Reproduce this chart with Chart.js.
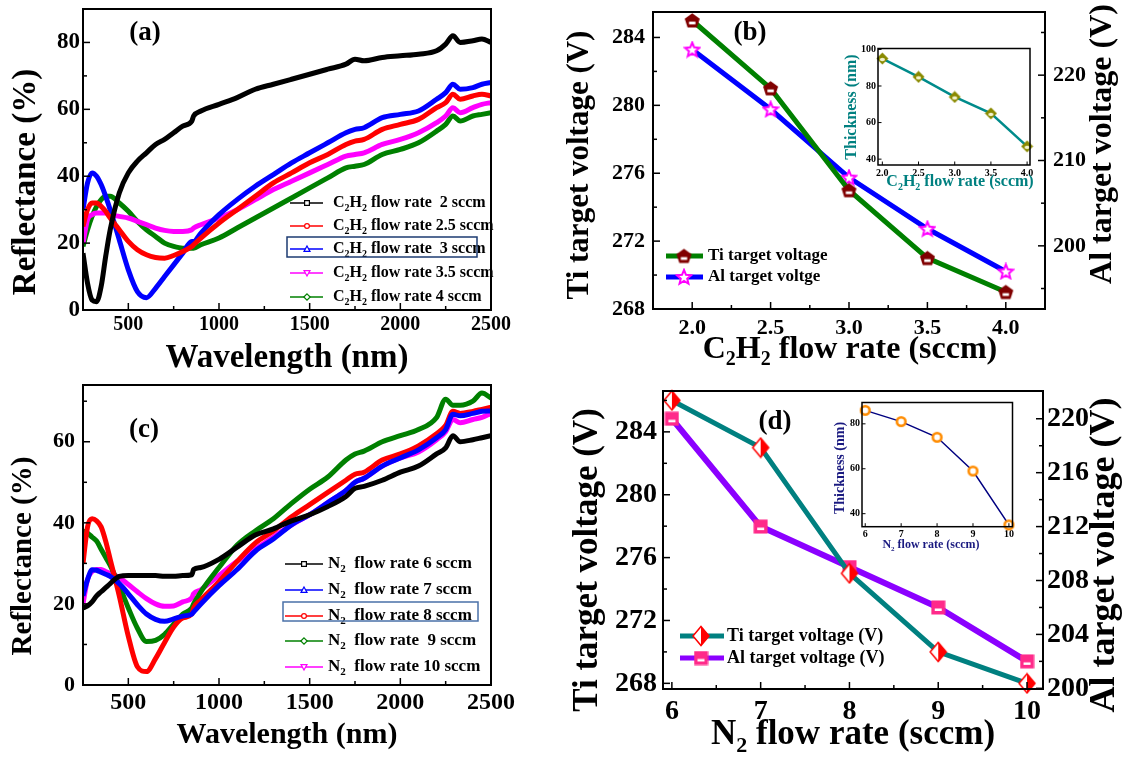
<!DOCTYPE html>
<html><head><meta charset="utf-8">
<script src="https://cdn.jsdelivr.net/npm/chart.js@4.4.1/dist/chart.umd.min.js"></script>
<style>
html,body{margin:0;padding:0;background:#fff;}
#wrap{position:relative;width:1126px;height:757px;overflow:hidden;background:#fff;}
.box{position:absolute;}
</style></head><body>
<div id="wrap">
  <div class="box" style="left:0;top:0;width:560px;height:378px"><canvas id="ca"></canvas></div>
  <div class="box" style="left:560px;top:0;width:566px;height:378px"><canvas id="cb"></canvas></div>
  <div class="box" style="left:0;top:378px;width:560px;height:379px"><canvas id="cc"></canvas></div>
  <div class="box" style="left:560px;top:378px;width:566px;height:379px"><canvas id="cd"></canvas></div>
  <div class="box" style="left:835px;top:40px;width:205px;height:155px"><canvas id="cib"></canvas></div>
  <div class="box" style="left:820px;top:395px;width:200px;height:160px"><canvas id="cid"></canvas></div>
</div>
<script>
const SERIF = '"Liberation Serif","Times New Roman",Times,serif';

// ================= DATA =================
const wavelengthNm = [250,275,300,325,350,375,400,450,500,550,600,650,700,750,800,850,860,900,1000,1100,1200,1300,1400,1500,1600,1700,1750,1800,1900,2000,2100,2200,2250,2290,2330,2400,2450,2500];

// (a) C2H2 series, reflectance (%)
const reflA_2sccm   = [17,8,3,2.5,7,16,24,35,41,44.5,47,49.5,51,53,55,56.5,58,59.5,61.5,63.5,66,67.5,69,70.5,72,73.5,75,74.5,75.5,76,76.5,77.5,79.5,82,80,80.5,81,80];
const reflA_2_5sccm = [25,30,32,32,31,29.5,27.5,24,20.5,18,16.5,15.7,15.5,16.3,17.5,19,19.5,21.5,26,30,34,38,41,44,46.5,49.5,50.5,51,54,55.5,57,60.5,62,64.5,63,64,64.5,64];
const reflA_3sccm   = [30,38,41,40,37.5,34,30,21,12,5.5,3.7,6.5,10,13.5,17,20.5,20.5,23,28.5,33,37,40.5,44,47,50,53,54,54.5,57.5,58.5,59.5,63,65,67.5,66,66.5,67.5,68];
const reflA_3_5sccm = [20,27,28.5,29,29,29,28.5,28,27.5,26.5,25.5,24.5,23.8,23.5,23.5,24,24.5,25.5,27.5,30,33,36,38.5,41,43.5,46,46.5,47,49.5,51,53,56,58,60.5,59,60.5,61.5,62];
const reflA_4sccm   = [19,24,28,31,33,34,34,32,29.5,26.5,24,22,20,19,18.5,18.5,18.5,19.5,21.5,24.5,27.5,30.5,33.5,36.5,39.5,42.5,43,43.5,46.5,48,50,53.5,55.5,58,56.5,58,58.5,59];
const labelsA = ['C₂H₂ flow rate  2 sccm','C₂H₂ flow rate 2.5 sccm','C₂H₂ flow rate  3 sccm','C₂H₂ flow rate 3.5 sccm','C₂H₂ flow rate 4 sccm'];

// (c) N2 series, reflectance (%)
const reflC_6sccm  = [19,19.5,20.5,22,23,24,25,26.8,27,27,27,27,26.8,26.8,27,27.2,28.5,29,31,34,37,38.5,40.5,42,44,46.5,48.5,49,50.5,52.5,54,57,58.5,61.5,60,60.5,61,61.5];
const reflC_7sccm  = [22,26,28.4,28.3,27.8,27.3,26.8,25,22.5,19.8,17.5,16.2,15.7,16.3,17,17.5,18,20,24.5,28.5,33,36,39.5,42,45,48,50,51,54,56,58,61,63,66.8,66.4,67,67.5,67.6];
const reflC_8sccm  = [30,39,41,40.5,39,35.5,31,22,12,4.5,3.3,6.5,10.5,14.3,16.5,17.5,19,21,25.5,30.5,35,38,41.5,44.5,47.5,50.5,52,52.5,55.5,57,59,62,64,67.5,67,67.5,68,68.5];
const reflC_9sccm  = [38,37.5,36.5,35.5,33.5,31.5,29.5,24.5,19,14,10.7,11,12.5,15,17.5,19,20,23,29,34.5,38,41,44.8,48.3,51.3,55.5,57,57.7,60,61.5,63,66,70.5,69,69,70,72,70.8];
const reflC_10sccm = [20,26,28,28.5,28.5,28,27.5,26.5,24.8,23,21.3,20,19.4,19.5,20.5,21.5,22.5,23.5,27,30.5,33.5,36.5,39.5,42,45,48,50,51,54,56,57.5,60.5,62.5,65.5,64.7,65.5,66,67];
const labelsC = ['N₂  flow rate 6 sccm','N₂  flow rate 7 sccm','N₂  flow rate 8 sccm','N₂  flow rate  9 sccm','N₂  flow rate 10 sccm'];

// (b) target voltages vs C2H2 flow
const c2h2Flow   = [2.0,2.5,3.0,3.5,4.0];
const tiVoltageB = [285,281,275,271,269];
const alVoltageB = [223,216,208,202,197];
const thicknessB = [95,85,74,65,47];

// (d) target voltages vs N2 flow
const n2Flow     = [6,7,8,9,10];
const tiVoltageD = [286,283,275,270,268];
const alVoltageD = [220,212,209,206,202];
const thicknessD = [86,81,74,59,35];

// tick values
const ticksA_x = [500,1000,1500,2000,2500], minorA_x = [750,1250,1750,2250];
const ticksA_y = [0,20,40,60,80],          minorA_y = [10,30,50,70];
const ticksC_y = [0,20,40,60],             minorC_y = [10,30,50,70];
const ticksB_x = [2.0,2.5,3.0,3.5,4.0],    minorB_x = [2.25,2.75,3.25,3.75];
const ticksB_y = [268,272,276,280,284],    minorB_y = [270,274,278,282];
const ticksB_y2 = [200,210,220],           minorB_y2 = [195,205,215,225];
const ticksD_x = [6,7,8,9,10],             minorD_x = [6.5,7.5,8.5,9.5];
const ticksD_y = [268,272,276,280,284],    minorD_y = [270,274,278,282,286];
const ticksD_y2 = [200,204,208,212,216,220], minorD_y2 = [202,206,210,214,218];
const ticksIB_x = [2.0,2.5,3.0,3.5,4.0],   ticksIB_y = [40,60,80,100];
const ticksID_x = [6,7,8,9,10],            ticksID_y = [40,60,80];

// ================= MARKERS =================
function mk(w,h,fn){const c=document.createElement('canvas');c.width=w;c.height=h;fn(c.getContext('2d'),w,h);return c;}
const MK = {
  pent: mk(17,17,c=>{c.beginPath();for(let i=0;i<5;i++){const a=-Math.PI/2+i*2*Math.PI/5;const x=8.5+7.9*Math.cos(a),y=9.1+7.9*Math.sin(a);i?c.lineTo(x,y):c.moveTo(x,y);}c.closePath();c.fillStyle='#800000';c.fill();c.fillStyle='#fff';c.fillRect(5.3,9.6,6.4,2.8);}),
  star: mk(18,18,c=>{c.beginPath();for(let i=0;i<10;i++){const a=-Math.PI/2+i*Math.PI/5;const r=i%2?3.4:7.6;const x=9+r*Math.cos(a),y=9.6+r*Math.sin(a);i?c.lineTo(x,y):c.moveTo(x,y);}c.closePath();c.fillStyle='#fff';c.fill();c.strokeStyle='#ff00ff';c.lineWidth=2;c.stroke();}),
  halfDia: mk(20,22,c=>{c.lineWidth=1.5;c.strokeStyle='#ff0000';c.beginPath();c.moveTo(10,1.5);c.lineTo(2,11);c.lineTo(10,20.5);c.closePath();c.fillStyle='#fff';c.fill();c.beginPath();c.moveTo(10,1.5);c.lineTo(18,11);c.lineTo(10,20.5);c.closePath();c.fillStyle='#ff0000';c.fill();c.beginPath();c.moveTo(10,1.5);c.lineTo(18,11);c.lineTo(10,20.5);c.lineTo(2,11);c.closePath();c.stroke();}),
  pinkSq: mk(15,15,c=>{c.fillStyle='#ff2a8a';c.fillRect(0.5,0.5,14,14);c.fillStyle='#fff';c.fillRect(4,8.5,7,2.5);}),
  oliveDia: mk(13,13,c=>{c.beginPath();c.moveTo(6.5,0.5);c.lineTo(12.5,6.5);c.lineTo(6.5,12.5);c.lineTo(0.5,6.5);c.closePath();c.fillStyle='#8a8a00';c.fill();c.beginPath();c.ellipse(6.5,7.5,2.6,1.8,0,0,Math.PI*2);c.fillStyle='#f4f4d0';c.fill();}),
  orangeRing: mk(13,13,c=>{c.beginPath();c.arc(6.5,6.5,4.3,0,Math.PI*2);c.fillStyle='#fff';c.fill();c.strokeStyle='#ff8c00';c.lineWidth=2.6;c.stroke();})
};

// ================= RICH TEXT =================
function richParts(text){const parts=[];let cur='';for(const ch of text){if(ch==='₂'){if(cur)parts.push({t:cur,sub:false});parts.push({t:'2',sub:true});cur='';}else cur+=ch;}if(cur)parts.push({t:cur,sub:false});return parts;}
function drawRich(ctx,text,x,y,size,color,align){
  const parts=richParts(text);
  const fN='bold '+size+'px '+SERIF, fS='bold '+Math.round(size*0.62)+'px '+SERIF;
  let w=0;parts.forEach(p=>{ctx.font=p.sub?fS:fN;p.w=ctx.measureText(p.t).width;w+=p.w;});
  let cx=align==='center'?x-w/2:x;
  ctx.fillStyle=color;ctx.textBaseline='middle';ctx.textAlign='left';
  parts.forEach(p=>{ctx.font=p.sub?fS:fN;ctx.fillText(p.t,cx,y+(p.sub?size*0.32:0));cx+=p.w;});
}
function smallMarker(ctx,type,x,y,color){
  ctx.save();ctx.strokeStyle=color;ctx.fillStyle='#fff';ctx.lineWidth=1.2;ctx.beginPath();const r=2.4;
  if(type==='square')ctx.rect(x-r,y-r,2*r,2*r);
  else if(type==='circle')ctx.arc(x,y,r,0,Math.PI*2);
  else if(type==='triUp'){ctx.moveTo(x,y-r-0.6);ctx.lineTo(x+r+0.6,y+r);ctx.lineTo(x-r-0.6,y+r);ctx.closePath();}
  else if(type==='triDown'){ctx.moveTo(x,y+r+0.6);ctx.lineTo(x+r+0.6,y-r);ctx.lineTo(x-r-0.6,y-r);ctx.closePath();}
  else {ctx.moveTo(x,y-r-0.8);ctx.lineTo(x+r+0.8,y);ctx.lineTo(x,y+r+0.8);ctx.lineTo(x-r-0.8,y);ctx.closePath();}
  ctx.fill();ctx.stroke();ctx.restore();
}

// ================= PANEL DECORATION CONFIG =================
const PANELS = {
  ca:{ticks:[{scale:'x',side:'bottom',major:ticksA_x,minor:minorA_x},{scale:'y',side:'left',major:ticksA_y,minor:minorA_y}],
      majorLen:7,minorLen:4,frame:2,
      titles:[{text:'Wavelength (nm)',x:287,y:358,size:33},{text:'Reflectance (%)',x:26,y:182,size:33,rot:-90}],
      label:{text:'(a)',x:145,y:33,size:27},
      legend:{type:'thin',rows:[203,226,249,273,297],x1:290,x2:323,mx:307,tx:333,size:16,markers:['square','circle','triUp','triDown','diamond'],box:{x:287,y:237,w:190,h:20,color:'#1c3b72'}}},
  cc:{ticks:[{scale:'x',side:'bottom',major:ticksA_x,minor:minorA_x},{scale:'y',side:'left',major:ticksC_y,minor:minorC_y}],
      majorLen:7,minorLen:4,frame:2,
      titles:[{text:'Wavelength (nm)',x:287,y:357,size:30},{text:'Reflectance (%)',x:24,y:178,size:29,rot:-90}],
      label:{text:'(c)',x:144,y:52,size:27},
      legend:{type:'thin',rows:[186,212,238,263,289],x1:285,x2:323,mx:304,tx:328,size:17,markers:['square','triUp','circle','diamond','triDown'],box:{x:283,y:224,w:195,h:19,color:'#4a70a8'}}},
  cb:{ticks:[{scale:'x',side:'bottom',major:ticksB_x,minor:minorB_x},{scale:'y',side:'left',major:ticksB_y,minor:minorB_y},{scale:'y2',side:'right',major:ticksB_y2,minor:minorB_y2}],
      majorLen:7,minorLen:4,frame:2,
      titles:[{text:'C₂H₂ flow rate (sccm)',x:290,y:350,size:32},{text:'Ti target voltage (V)',x:20,y:165,size:31,rot:-90},{text:'Al target voltage (V)',x:543,y:144,size:32,rot:-90}],
      label:{text:'(b)',x:190,y:33,size:27},
      legend:{type:'thick',rows:[256,277],x1:106,x2:143,mx:124,tx:148,size:17,lw:5}},
  cd:{ticks:[{scale:'x',side:'bottom',major:ticksD_x,minor:minorD_x},{scale:'y',side:'left',major:ticksD_y,minor:minorD_y},{scale:'y2',side:'right',major:ticksD_y2,minor:minorD_y2}],
      majorLen:7,minorLen:4,frame:2,
      titles:[{text:'N₂ flow rate (sccm)',x:293,y:357,size:35},{text:'Ti target voltage (V)',x:28,y:182,size:35,rot:-90},{text:'Al target voltage (V)',x:545,y:177,size:36,rot:-90}],
      label:{text:'(d)',x:215,y:44,size:27},
      legend:{type:'thick',rows:[258,280],x1:120,x2:164,mx:141,tx:167,size:18,lw:5}},
  cib:{ticks:[{scale:'x',side:'bottom',major:ticksIB_x,minor:[]},{scale:'y',side:'left',major:ticksIB_y,minor:[]}],
      majorLen:3.5,minorLen:2,frame:1.5,tickWidth:1,
      titles:[{text:'C₂H₂ flow rate (sccm)',x:125,y:142,size:16,color:'#008080'},{text:'Thickness (nm)',x:17,y:67,size:16,rot:-90,color:'#008080'}]},
  cid:{ticks:[{scale:'x',side:'bottom',major:ticksID_x,minor:[]},{scale:'y',side:'left',major:ticksID_y,minor:[]}],
      majorLen:3.5,minorLen:2,frame:1.5,tickWidth:1,
      titles:[{text:'N₂ flow rate (sccm)',x:111,y:150,size:12,color:'#1a1a80'},{text:'Thickness (nm)',x:20,y:73,size:14,rot:-90,color:'#1a1a80'}]}
};

const decor = {
  id:'decor',
  afterDraw(chart){
    const cfg=PANELS[chart.canvas.id];if(!cfg)return;
    const ctx=chart.ctx,a=chart.chartArea;
    ctx.save();
    ctx.strokeStyle='#000';ctx.lineWidth=cfg.tickWidth||1.5;
    cfg.ticks.forEach(t=>{
      const sc=chart.scales[t.scale];
      [[t.major,cfg.majorLen],[t.minor,cfg.minorLen]].forEach(([vals,len])=>{
        vals.forEach(v=>{
          const p=sc.getPixelForValue(v);ctx.beginPath();
          if(t.side==='bottom'){ctx.moveTo(p,a.bottom);ctx.lineTo(p,a.bottom-len);}
          else if(t.side==='left'){ctx.moveTo(a.left,p);ctx.lineTo(a.left+len,p);}
          else {ctx.moveTo(a.right,p);ctx.lineTo(a.right-len,p);}
          ctx.stroke();
        });
      });
    });
    ctx.lineWidth=cfg.frame;ctx.strokeRect(a.left,a.top,a.right-a.left,a.bottom-a.top);
    cfg.titles.forEach(t=>{ctx.save();ctx.translate(t.x,t.y);if(t.rot)ctx.rotate(t.rot*Math.PI/180);drawRich(ctx,t.text,0,0,t.size,t.color||'#000','center');ctx.restore();});
    if(cfg.label)drawRich(ctx,cfg.label.text,cfg.label.x,cfg.label.y,cfg.label.size,'#000','center');
    const L=cfg.legend;
    if(L){
      chart.data.datasets.forEach((ds,i)=>{
        if(i>=L.rows.length)return;
        const y=L.rows[i];
        ctx.save();ctx.strokeStyle=ds.borderColor;ctx.lineWidth=L.type==='thin'?1.4:L.lw;
        ctx.beginPath();ctx.moveTo(L.x1,y);ctx.lineTo(L.x2,y);ctx.stroke();ctx.restore();
        if(L.type==='thin')smallMarker(ctx,L.markers[i],L.mx,y,ds.borderColor);
        else {const m=ds.pointStyle;ctx.drawImage(m,L.mx-m.width/2,y-m.height/2);}
        drawRich(ctx,ds.label,L.tx,y,L.size,'#000','left');
      });
      if(L.box){ctx.strokeStyle=L.box.color;ctx.lineWidth=1.5;ctx.strokeRect(L.box.x,L.box.y,L.box.w,L.box.h);}
    }
    ctx.restore();
  }
};

// ================= CHART HELPERS =================
function font(size){return {family:SERIF,weight:'bold',size:size};}
function axis(o){
  const ax={type:'linear',position:o.pos,min:o.min,max:o.max,
    grid:{display:false,drawTicks:false},border:{display:false},
    ticks:{color:'#000',font:font(o.fs),padding:o.pad,autoSkip:false,maxRotation:0,
      callback:o.fmt?o.fmt:(v=>String(v))},
    afterBuildTicks:s=>{s.ticks=o.ticks.map(v=>({value:v}));}};
  ax.afterFit=s=>{
    if(o.w!==undefined){s.width=o.w;}
    if(o.h!==undefined){s.height=o.h;}
    s.paddingTop=0;s.paddingBottom=0;s.paddingLeft=0;s.paddingRight=0;
  };
  return ax;
}
const fmt1=v=>Number(v).toFixed(1);
function baseOpts(pad,scales){
  return {responsive:true,maintainAspectRatio:false,animation:false,
    layout:{padding:pad},plugins:{legend:{display:false},tooltip:{enabled:false}},scales:scales};
}
function spectra(label,vals,color){
  return {label:label,data:wavelengthNm.map((w,i)=>({x:w,y:vals[i]})),borderColor:color,backgroundColor:color,
    borderWidth:5,pointRadius:0,fill:false,cubicInterpolationMode:'monotone'};
}
function pts(xs,ys){return xs.map((x,i)=>({x:x,y:ys[i]}));}

// (a)
new Chart(document.getElementById('ca'),{type:'line',
  data:{datasets:[spectra(labelsA[0],reflA_2sccm,'#000000'),spectra(labelsA[1],reflA_2_5sccm,'#ff0000'),spectra(labelsA[2],reflA_3sccm,'#0000ff'),spectra(labelsA[3],reflA_3_5sccm,'#ff00ff'),spectra(labelsA[4],reflA_4sccm,'#008000')]},
  options:baseOpts({left:0,right:69,top:9,bottom:0},{
    x:axis({pos:'bottom',min:250,max:2500,ticks:ticksA_x,fs:20,pad:3,h:68}),
    y:axis({pos:'left',min:0,max:90,ticks:ticksA_y,fs:23,pad:3,w:83})}),
  plugins:[decor]});

// (c)
new Chart(document.getElementById('cc'),{type:'line',
  data:{datasets:[spectra(labelsC[0],reflC_6sccm,'#000000'),spectra(labelsC[1],reflC_7sccm,'#0000ff'),spectra(labelsC[2],reflC_8sccm,'#ff0000'),spectra(labelsC[3],reflC_9sccm,'#008000'),spectra(labelsC[4],reflC_10sccm,'#ff00ff')]},
  options:baseOpts({left:0,right:69,top:7,bottom:0},{
    x:axis({pos:'bottom',min:250,max:2500,ticks:ticksA_x,fs:24,pad:3,h:72}),
    y:axis({pos:'left',min:0,max:74,ticks:ticksC_y,fs:22,pad:8,w:83})}),
  plugins:[decor]});

// (b)
new Chart(document.getElementById('cb'),{type:'line',
  data:{datasets:[
    {label:'Ti target voltage',data:pts(c2h2Flow,tiVoltageB),yAxisID:'y',borderColor:'#008000',borderWidth:5,pointStyle:MK.pent,pointRadius:7,clip:false},
    {label:'Al target voltge',data:pts(c2h2Flow,alVoltageB),yAxisID:'y2',borderColor:'#0000ff',borderWidth:5,pointStyle:MK.star,pointRadius:7,clip:false}]},
  options:baseOpts({left:0,right:0,top:9,bottom:0},{
    x:axis({pos:'bottom',min:1.75,max:4.25,ticks:ticksB_x,fs:22,pad:6,h:69,fmt:fmt1}),
    y:axis({pos:'left',min:268,max:285.5,ticks:ticksB_y,fs:22,pad:8,w:93}),
    y2:axis({pos:'right',min:192.6,max:227.4,ticks:ticksB_y2,fs:22,pad:8,w:81})}),
  plugins:[decor]});

// (d)
new Chart(document.getElementById('cd'),{type:'line',
  data:{datasets:[
    {label:'Ti target voltage (V)',data:pts(n2Flow,tiVoltageD),yAxisID:'y',borderColor:'#008080',borderWidth:5,pointStyle:MK.halfDia,pointRadius:8,clip:false},
    {label:'Al target voltage (V)',data:pts(n2Flow,alVoltageD),yAxisID:'y2',borderColor:'#8b00ff',borderWidth:6,pointStyle:MK.pinkSq,pointRadius:7,clip:false}]},
  options:baseOpts({left:0,right:0,top:7,bottom:0},{
    x:axis({pos:'bottom',min:5.9,max:10.18,ticks:ticksD_x,fs:28,pad:6,h:68}),
    y:axis({pos:'left',min:267.64,max:286.6,ticks:ticksD_y,fs:28,pad:6,w:103}),
    y2:axis({pos:'right',min:199.95,max:222.06,ticks:ticksD_y2,fs:28,pad:4,w:83})}),
  plugins:[decor]});

// inset (b)
new Chart(document.getElementById('cib'),{type:'line',
  data:{datasets:[{label:'Thickness',data:pts(c2h2Flow,thicknessB),borderColor:'#008b8b',borderWidth:2.5,pointStyle:MK.oliveDia,pointRadius:6,clip:false}]},
  options:baseOpts({left:0,right:10,top:5,bottom:0},{
    x:axis({pos:'bottom',min:1.94,max:4.04,ticks:ticksIB_x,fs:10,pad:2,h:30,fmt:fmt1}),
    y:axis({pos:'left',min:36.8,max:100.5,ticks:ticksIB_y,fs:10,pad:2,w:43})}),
  plugins:[decor]});

// inset (d)
new Chart(document.getElementById('cid'),{type:'line',
  data:{datasets:[{label:'Thickness',data:pts(n2Flow,thicknessD),borderColor:'#000080',borderWidth:1.5,pointStyle:MK.orangeRing,pointRadius:6,clip:false}]},
  options:baseOpts({left:0,right:7,top:5.5,bottom:0},{
    x:axis({pos:'bottom',min:5.91,max:10.1,ticks:ticksID_x,fs:10,pad:2,h:28.3}),
    y:axis({pos:'left',min:34.2,max:89.5,ticks:ticksID_y,fs:10,pad:2,w:42})}),
  plugins:[decor]});
</script>
</body></html>
